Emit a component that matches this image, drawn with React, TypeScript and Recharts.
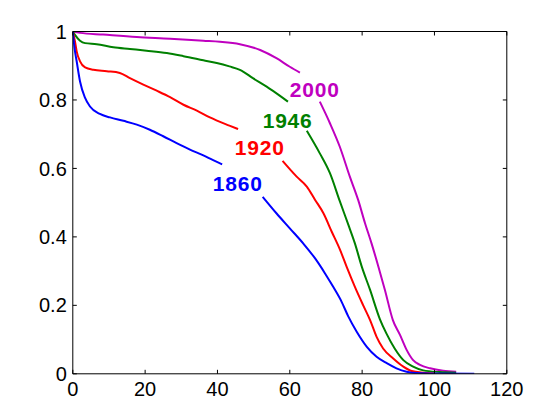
import React from 'react';
import { LineChart, Line, XAxis, YAxis, ReferenceDot } from 'recharts';

// Survival curves: age (x) vs. fraction surviving (y); null marks the break around each label
const age1860 = [0, 0.5, 1.07, 2, 3.4, 4.75, 7.5, 10.3, 14, 17.7, 21.3, 25, 28.7, 32.4, 36.1, 38.8, 41.3, 47, 52.5, 56.3, 60, 63.7, 67, 69.7, 72, 74.3, 76.2, 78.5, 81.3, 84, 86.8, 89.5, 92.3, 95, 100, 111];
const surv1860 = [1, 0.95, 0.913, 0.854, 0.806, 0.781, 0.759, 0.749, 0.739, 0.728, 0.713, 0.694, 0.674, 0.655, 0.638, 0.624, 0.612, null, 0.517, 0.469, 0.425, 0.381, 0.337, 0.294, 0.254, 0.211, 0.167, 0.123, 0.079, 0.05, 0.031, 0.016, 0.006, 0.002, 0.001, 0];

const age1920 = [0, 0.6, 1.07, 2, 3.4, 5.7, 9.4, 13, 15.8, 19.5, 23.2, 26.9, 30.6, 34.3, 37.9, 43.3, 45.7, 52, 58, 61.9, 64.7, 67, 69.3, 71.6, 73.9, 75.7, 78, 80.3, 82.2, 84, 85.8, 88.6, 91.4, 93.7, 96.9, 100];
const surv1920 = [1, 0.971, 0.942, 0.913, 0.895, 0.888, 0.884, 0.879, 0.864, 0.845, 0.827, 0.808, 0.786, 0.769, 0.749, 0.725, 0.715, null, 0.622, 0.576, 0.547, 0.508, 0.469, 0.415, 0.362, 0.313, 0.254, 0.2, 0.157, 0.108, 0.074, 0.045, 0.021, 0.008, 0.003, 0.001];

const age1946 = [0, 0.6, 2, 3.4, 6.6, 11.2, 15.8, 20.4, 26, 30.6, 36.1, 39.8, 43.3, 46.2, 49.9, 53.6, 57.3, 59.5, 62, 64.7, 68.3, 71.1, 73.8, 76.2, 78, 79.9, 82.2, 84.9, 86.7, 89, 91.4, 94.1, 96.9, 101.5, 106];
const surv1946 = [1, 0.99, 0.973, 0.966, 0.963, 0.954, 0.949, 0.944, 0.937, 0.928, 0.916, 0.908, 0.898, 0.888, 0.863, 0.839, 0.812, 0.795, null, 0.71, 0.644, 0.586, 0.505, 0.435, 0.381, 0.313, 0.245, 0.16, 0.118, 0.074, 0.04, 0.021, 0.01, 0.005, 0.003];

const age2000 = [0, 2, 8.4, 17.7, 26.9, 36.1, 40.7, 46.2, 51.8, 56.3, 60, 62.8, 65.5, 68.3, 71.1, 73.8, 76.6, 78.9, 80.8, 82.6, 84.5, 86.3, 88.5, 90.5, 92.3, 94.1, 96, 98.8, 102.4, 106];
const surv2000 = [1, 0.996, 0.991, 0.984, 0.979, 0.973, 0.97, 0.963, 0.946, 0.922, 0.897, 0.88, null, 0.795, 0.732, 0.664, 0.576, 0.508, 0.44, 0.381, 0.313, 0.245, 0.157, 0.113, 0.07, 0.04, 0.026, 0.016, 0.009, 0.006];

const xTicks = [0, 20, 40, 60, 80, 100, 120];
const yTicks = [0, 0.2, 0.4, 0.6, 0.8, 1];

const yearLabels = ['1860', '1920', '1946', '2000'];
const labelAges = [45.6, 51.7, 59.4, 66.9];
const labelSurv = [0.557, 0.662, 0.741, 0.829];
const seriesColors = ['#0000FF', '#FF0000', '#008000', '#BF00BF'];

const build = (ages: number[], surv: (number | null)[]) =>
  ages.map((a, i) => ({ x: a, y: surv[i] }));

const series = [
  { key: '2000', data: build(age2000, surv2000), color: seriesColors[3] },
  { key: '1946', data: build(age1946, surv1946), color: seriesColors[2] },
  { key: '1920', data: build(age1920, surv1920), color: seriesColors[1] },
  { key: '1860', data: build(age1860, surv1860), color: seriesColors[0] },
];

const FONT = 'Liberation Sans, Arial, Helvetica, sans-serif';
const axisLine = { stroke: '#000', strokeWidth: 1 };
const TICK_LEN = 4;
const X_GAP = 8;
const Y_GAP = 6;

const BottomTick = (props: any) => {
  const { x, y, payload } = props;
  return (
    <g>
      <line x1={x} x2={x} y1={y - X_GAP} y2={y - X_GAP - TICK_LEN} stroke="#000" strokeWidth={1} />
      <text x={x} y={y} dy="0.71em" textAnchor="middle" fill="#000" fontSize={20} fontFamily={FONT}>
        {payload.value}
      </text>
    </g>
  );
};

const LeftTick = (props: any) => {
  const { x, y, payload } = props;
  return (
    <g>
      <line x1={x + Y_GAP} x2={x + Y_GAP + TICK_LEN} y1={y} y2={y} stroke="#000" strokeWidth={1} />
      <text x={x} y={y} dy="0.355em" textAnchor="end" fill="#000" fontSize={20} fontFamily={FONT}>
        {payload.value}
      </text>
    </g>
  );
};

const TopTick = (props: any) => {
  const { x, y } = props;
  return <line x1={x} x2={x} y1={y} y2={y + TICK_LEN} stroke="#000" strokeWidth={1} />;
};

const RightTick = (props: any) => {
  const { x, y } = props;
  return <line x1={x} x2={x - TICK_LEN} y1={y} y2={y} stroke="#000" strokeWidth={1} />;
};

export default function App() {
  return (
    <div style={{ position: 'absolute', left: 0, top: 0, width: 560, height: 420, background: '#fff' }}>
      <LineChart width={560} height={420} margin={{ top: 1.5, right: 23.2, bottom: 0, left: 0 }}>
        <XAxis
          xAxisId="b"
          dataKey="x"
          type="number"
          domain={[0, 120]}
          ticks={xTicks}
          allowDataOverflow
          height={46.2}
          tick={<BottomTick />}
          tickSize={0}
          tickMargin={X_GAP}
          axisLine={axisLine}
          tickLine={false}
          interval={0}
        />
        <XAxis
          xAxisId="t"
          orientation="top"
          dataKey="x"
          type="number"
          domain={[0, 120]}
          ticks={xTicks}
          allowDataOverflow
          height={30}
          tick={<TopTick />}
          tickSize={0}
          tickMargin={0}
          axisLine={axisLine}
          tickLine={false}
          interval={0}
        />
        <YAxis
          yAxisId="l"
          type="number"
          domain={[0, 1]}
          ticks={yTicks}
          allowDataOverflow
          width={72.8}
          tick={<LeftTick />}
          tickSize={0}
          tickMargin={Y_GAP}
          axisLine={axisLine}
          tickLine={false}
          interval={0}
        />
        <YAxis
          yAxisId="r"
          orientation="right"
          type="number"
          domain={[0, 1]}
          ticks={yTicks}
          allowDataOverflow
          width={30}
          tick={<RightTick />}
          tickSize={0}
          tickMargin={0}
          axisLine={axisLine}
          tickLine={false}
          interval={0}
        />
        {series.map((s) => (
          <Line
            key={s.key}
            xAxisId="b"
            yAxisId="l"
            data={s.data}
            dataKey="y"
            type="monotoneX"
            stroke={s.color}
            strokeWidth={2}
            dot={false}
            activeDot={false}
            isAnimationActive={false}
            connectNulls={false}
          />
        ))}
        {yearLabels.map((lab, i) => (
          <ReferenceDot
            key={lab}
            xAxisId="t"
            yAxisId="r"
            x={labelAges[i]}
            y={labelSurv[i]}
            r={0}
            fill="none"
            stroke="none"
            label={{
              value: lab,
              position: 'center',
              fill: seriesColors[i],
              fontSize: 21,
              fontWeight: 'bold',
              fontFamily: FONT,
              letterSpacing: 0.8,
            }}
          />
        ))}
      </LineChart>
    </div>
  );
}
